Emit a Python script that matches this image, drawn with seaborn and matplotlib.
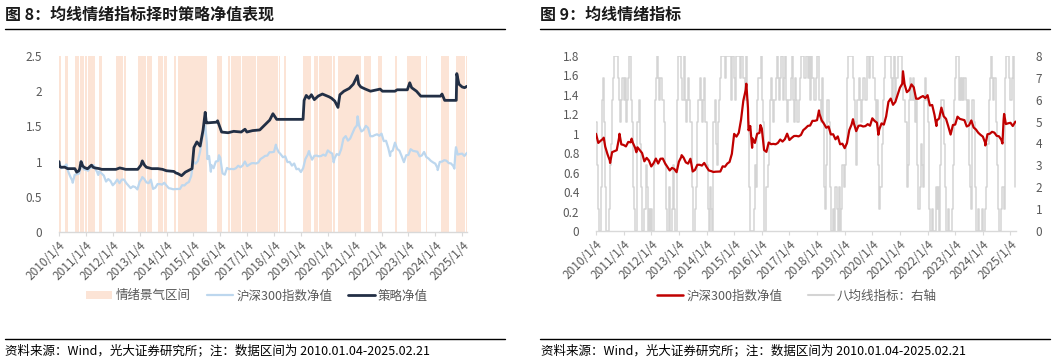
import matplotlib
matplotlib.use("Agg")
import matplotlib.pyplot as plt
from matplotlib.lines import Line2D
from matplotlib.patches import Patch
import seaborn as sns
import pandas as pd
import numpy as np

# ---------------- data ----------------
years = list(range(2010, 2026))
tick_labels = [f"{y}/1/4" for y in years]

# CSI300 net value (time in fractional years)
csi_t = [2010.0, 2010.083, 2010.167, 2010.25, 2010.28, 2010.333, 2010.417, 2010.5, 2010.51, 2010.583, 2010.667, 2010.75, 2010.833, 2010.85, 2010.917, 2011.0,
         2011.083, 2011.167, 2011.25, 2011.29, 2011.333, 2011.417, 2011.46, 2011.5, 2011.583, 2011.667, 2011.75, 2011.833, 2011.917, 2012.0,
         2012.083, 2012.167, 2012.25, 2012.333, 2012.417, 2012.5, 2012.583, 2012.667, 2012.75, 2012.833, 2012.917, 2013.0,
         2013.083, 2013.10, 2013.167, 2013.25, 2013.333, 2013.417, 2013.5, 2013.583, 2013.667, 2013.75, 2013.833, 2013.917, 2014.0,
         2014.083, 2014.167, 2014.25, 2014.333, 2014.417, 2014.5, 2014.583, 2014.667, 2014.75, 2014.833, 2014.917, 2015.0,
         2015.083, 2015.167, 2015.25, 2015.333, 2015.417, 2015.44, 2015.5, 2015.52, 2015.583, 2015.65, 2015.667, 2015.75, 2015.833, 2015.917, 2015.95, 2016.0,
         2016.083, 2016.167, 2016.25, 2016.333, 2016.417, 2016.5, 2016.583, 2016.667, 2016.75, 2016.833, 2016.917, 2017.0,
         2017.083, 2017.167, 2017.25, 2017.333, 2017.417, 2017.5, 2017.583, 2017.667, 2017.75, 2017.833, 2017.917, 2018.0,
         2018.07, 2018.083, 2018.167, 2018.25, 2018.333, 2018.417, 2018.5, 2018.583, 2018.667, 2018.75, 2018.833, 2018.917, 2019.0,
         2019.083, 2019.167, 2019.25, 2019.30, 2019.333, 2019.417, 2019.5, 2019.583, 2019.667, 2019.75, 2019.833, 2019.917, 2020.0,
         2020.083, 2020.167, 2020.22, 2020.25, 2020.333, 2020.417, 2020.5, 2020.583, 2020.667, 2020.75, 2020.833, 2020.917, 2021.0,
         2021.083, 2021.11, 2021.167, 2021.25, 2021.333, 2021.417, 2021.5, 2021.583, 2021.667, 2021.75, 2021.833, 2021.917, 2022.0,
         2022.083, 2022.167, 2022.25, 2022.32, 2022.333, 2022.417, 2022.5, 2022.583, 2022.667, 2022.75, 2022.833, 2022.917, 2023.0,
         2023.083, 2023.167, 2023.25, 2023.333, 2023.417, 2023.5, 2023.583, 2023.667, 2023.75, 2023.833, 2023.917, 2024.0,
         2024.083, 2024.09, 2024.167, 2024.25, 2024.333, 2024.417, 2024.5, 2024.583, 2024.667, 2024.71, 2024.75, 2024.77, 2024.833, 2024.917, 2025.0,
         2025.083, 2025.18]
csi_v = [1.00, 0.906, 0.928, 0.947, 0.960, 0.868, 0.789, 0.725, 0.700, 0.811, 0.821, 0.831, 0.956, 1.000, 0.891, 0.885,
         0.870, 0.916, 0.912, 0.950, 0.908, 0.854, 0.810, 0.861, 0.831, 0.802, 0.717, 0.752, 0.724, 0.664,
         0.697, 0.745, 0.694, 0.743, 0.745, 0.696, 0.660, 0.623, 0.649, 0.638, 0.605, 0.713,
         0.760, 0.780, 0.756, 0.706, 0.693, 0.743, 0.612, 0.629, 0.681, 0.681, 0.673, 0.700, 0.659,
         0.623, 0.616, 0.607, 0.610, 0.611, 0.612, 0.665, 0.661, 0.693, 0.710, 0.794, 0.999,
         0.971, 1.010, 1.146, 1.343, 1.449, 1.515, 1.265, 1.036, 1.080, 0.856, 0.952, 0.906, 1.000, 1.009, 1.090, 1.055,
         0.833, 0.814, 0.910, 0.893, 0.896, 0.892, 0.906, 0.941, 0.920, 0.944, 1.001, 0.936,
         0.958, 0.977, 0.978, 0.973, 0.988, 1.037, 1.057, 1.081, 1.085, 1.133, 1.133, 1.140,
         1.240, 1.209, 1.138, 1.103, 1.062, 1.075, 0.993, 0.995, 0.943, 0.973, 0.892, 0.898, 0.852,
         0.905, 1.038, 1.095, 1.150, 1.107, 1.027, 1.082, 1.085, 1.075, 1.079, 1.099, 1.083, 1.159,
         1.132, 1.114, 0.990, 1.043, 1.107, 1.094, 1.178, 1.328, 1.362, 1.298, 1.328, 1.403, 1.474,
         1.514, 1.643, 1.509, 1.428, 1.449, 1.508, 1.478, 1.361, 1.360, 1.376, 1.388, 1.367, 1.397,
         1.291, 1.296, 1.195, 1.080, 1.136, 1.157, 1.269, 1.180, 1.154, 1.076, 0.992, 1.090, 1.095,
         1.176, 1.153, 1.146, 1.140, 1.075, 1.087, 1.137, 1.065, 1.044, 1.011, 0.989, 0.971,
         0.909, 0.880, 0.995, 1.000, 1.020, 1.012, 0.979, 0.974, 0.939, 0.900, 1.137, 1.204, 1.100, 1.108, 1.113,
         1.080, 1.125]

# strategy net value
strat_t = [2010.0, 2010.02, 2010.07, 2010.22, 2010.32, 2010.59, 2010.66, 2010.74, 2010.77, 2010.82, 2010.88, 2010.93, 2011.04, 2011.07,
           2011.15, 2011.21, 2011.27, 2011.34, 2011.50, 2011.59, 2012.12, 2012.26, 2012.38, 2012.48, 2012.93, 2013.05, 2013.10,
           2013.18, 2013.25, 2013.45, 2013.68, 2013.85, 2014.00, 2014.28, 2014.34, 2014.42, 2014.56, 2014.70, 2014.95, 2015.02,
           2015.13, 2015.25, 2015.36, 2015.44, 2015.48, 2015.51, 2015.86, 2015.90, 2016.05, 2016.29, 2016.50, 2016.78,
           2016.92, 2016.99, 2017.20, 2017.47, 2017.84, 2017.96, 2018.10, 2018.22, 2018.46, 2019.08, 2019.12, 2019.20,
           2019.30, 2019.39, 2019.50, 2019.64, 2019.80, 2020.05, 2020.14, 2020.26, 2020.38, 2020.45, 2020.60, 2020.80,
           2020.95, 2021.10, 2021.15, 2021.23, 2021.40, 2021.59, 2021.95, 2022.03, 2022.50, 2022.58, 2022.96, 2023.05,
           2023.12, 2023.30, 2023.46, 2023.69, 2024.20, 2024.25, 2024.35, 2024.50, 2024.78, 2024.80, 2024.88, 2025.00,
           2025.09, 2025.18]
strat_v = [1.00, 0.93, 0.92, 0.92, 0.90, 0.90, 0.85, 0.87, 0.90, 1.00, 0.94, 0.92, 0.90, 0.90,
           0.93, 0.95, 0.92, 0.91, 0.90, 0.89, 0.89, 0.91, 0.90, 0.89, 0.89, 0.95, 1.01,
           0.95, 0.92, 0.90, 0.90, 0.89, 0.87, 0.86, 0.84, 0.83, 0.80, 0.85, 0.90, 1.20,
           1.28, 1.22, 1.45, 1.70, 1.55, 1.55, 1.56, 1.58, 1.42, 1.41, 1.43, 1.42,
           1.46, 1.42, 1.44, 1.45, 1.59, 1.68, 1.60, 1.60, 1.60, 1.60, 1.87, 1.94,
           1.90, 1.95, 1.88, 1.93, 1.96, 1.92, 1.90, 1.86, 1.77, 1.95, 2.00, 2.04,
           2.10, 2.22, 2.10, 2.06, 2.03, 2.00, 2.03, 2.00, 2.00, 2.02, 2.02, 2.12,
           2.05, 2.00, 1.93, 1.93, 1.93, 1.96, 1.87, 1.87, 1.87, 2.25, 2.10, 2.06,
           2.05, 2.07]

# sentiment-favourable intervals (fractional years)
zone_start = [2010.00, 2010.22, 2010.59, 2010.77, 2010.96, 2011.07, 2011.50, 2012.12, 2012.28, 2012.41, 2012.93, 2013.27,
              2013.68, 2013.89, 2014.28, 2014.42, 2015.86, 2016.29, 2016.39, 2016.80, 2017.01, 2017.36, 2018.17, 2018.38,
              2019.08, 2019.48, 2019.68, 2020.20, 2020.38, 2021.35, 2021.87, 2022.49, 2022.96, 2023.15, 2023.64, 2024.20,
              2024.78, 2025.15]
zone_end = [2010.07, 2010.32, 2010.74, 2010.93, 2011.04, 2011.34, 2011.59, 2012.26, 2012.38, 2012.48, 2013.25, 2013.45,
            2013.87, 2014.00, 2014.34, 2015.51, 2016.05, 2016.37, 2016.78, 2016.99, 2017.33, 2018.14, 2018.22, 2018.46,
            2019.39, 2019.64, 2020.14, 2020.26, 2021.23, 2021.59, 2022.03, 2022.58, 2023.12, 2023.46, 2023.69, 2024.50,
            2025.09, 2025.18]

# eight-moving-average indicator (0-8), semi-monthly readings
ma8_2010 = [5, 3, 1, 0, 2, 6, 7, 5, 2, 0, 0, 1, 3, 4, 6, 7, 8, 8, 8, 7, 6, 5, 6, 7]
ma8_2011 = [6, 7, 5, 6, 7, 8, 6, 5, 2, 1, 0, 0, 5, 6, 4, 2, 0, 0, 1, 3, 2, 0, 1, 0]
ma8_2012 = [1, 0, 3, 6, 7, 8, 7, 6, 7, 6, 6, 5, 3, 1, 0, 2, 0, 0, 1, 3, 1, 0, 6, 8]
ma8_2013 = [8, 8, 7, 6, 8, 6, 5, 6, 7, 6, 5, 2, 0, 0, 1, 2, 5, 6, 7, 6, 5, 6, 7, 5]
ma8_2014 = [3, 1, 0, 2, 1, 0, 5, 6, 4, 3, 5, 6, 7, 8, 8, 8, 7, 8, 8, 8, 8, 6, 8, 8]
ma8_2015 = [7, 6, 8, 8, 8, 7, 8, 8, 7, 6, 8, 6, 5, 2, 0, 0, 0, 1, 3, 2, 6, 7, 7, 8]
ma8_2016 = [6, 5, 0, 0, 2, 3, 4, 6, 7, 6, 5, 6, 7, 8, 7, 6, 7, 8, 6, 7, 8, 6, 5, 6]
ma8_2017 = [6, 7, 8, 6, 5, 7, 6, 5, 6, 7, 8, 8, 8, 7, 8, 8, 7, 8, 6, 8, 7, 6, 6, 7]
ma8_2018 = [8, 8, 6, 5, 7, 5, 2, 1, 3, 6, 5, 2, 0, 0, 1, 0, 2, 1, 0, 2, 0, 1, 3, 2]
ma8_2019 = [3, 4, 7, 8, 8, 8, 8, 7, 6, 5, 3, 6, 7, 6, 5, 6, 7, 7, 6, 8, 8, 7, 8, 8]
ma8_2020 = [8, 7, 6, 5, 6, 3, 1, 2, 4, 6, 7, 8, 8, 8, 8, 8, 7, 6, 7, 8, 6, 7, 8, 8]
ma8_2021 = [8, 8, 7, 6, 5, 5, 2, 3, 6, 7, 6, 7, 6, 5, 6, 3, 1, 2, 4, 3, 2, 6, 7, 6]
ma8_2022 = [5, 1, 0, 0, 1, 0, 0, 2, 1, 2, 0, 3, 6, 6, 4, 2, 0, 0, 1, 0, 0, 1, 3, 6]
ma8_2023 = [7, 8, 8, 6, 7, 6, 7, 6, 7, 6, 5, 6, 3, 2, 1, 6, 5, 2, 0, 0, 1, 0, 0, 1]
ma8_2024 = [0, 0, 1, 2, 4, 6, 7, 8, 7, 6, 7, 5, 3, 1, 0, 0, 1, 2, 1, 7, 8, 8, 8, 7]
ma8_2025 = [6, 7, 8, 5, 2]

# ---------------- figure ----------------
sns.set_theme(style="white")
plt.rcParams["font.family"] = ["Noto Sans CJK SC", "DejaVu Sans"]
plt.rcParams["axes.unicode_minus"] = False

W, H = 1054, 361
fig = plt.figure(figsize=(W / 100, H / 100), dpi=100)

PEACH = "#FCE4D6"
LBLUE = "#BDD7EE"
NAVY = "#222F45"
RED = "#C00000"
GRAY = "#D4D4D4"
TXT = "#595959"

df_csi = pd.DataFrame({"t": csi_t, "v": csi_v})
df_str = pd.DataFrame({"t": strat_t, "v": strat_v})
ma8_vals = (ma8_2010 + ma8_2011 + ma8_2012 + ma8_2013 + ma8_2014 + ma8_2015 + ma8_2016 + ma8_2017 +
            ma8_2018 + ma8_2019 + ma8_2020 + ma8_2021 + ma8_2022 + ma8_2023 + ma8_2024 + ma8_2025)
df_ma8 = pd.DataFrame({"t": [2010 + i / 24 for i in range(len(ma8_vals))], "v": ma8_vals})


def style_xaxis(ax, xmax):
    ax.set_xlim(2010, xmax)
    ax.set_xticks(years)
    ax.set_xticklabels(tick_labels, rotation=45, ha="right", rotation_mode="anchor",
                       fontsize=8.5, color=TXT)
    ax.tick_params(axis="x", bottom=True, length=3, width=0.8, color="#D9D9D9", pad=2)
    for s in ["top", "right", "left"]:
        ax.spines[s].set_visible(False)
    ax.spines["bottom"].set_color("#D9D9D9")
    ax.spines["bottom"].set_linewidth(1.0)
    ax.set_xlabel("")
    ax.set_ylabel("")


# ---- left panel ----
ax1 = fig.add_axes([59 / W, (H - 232) / H, 408 / W, 176 / H])
for a, b in zip(zone_start, zone_end):
    ax1.axvspan(a, b, color=PEACH, lw=0, zorder=1)
sns.lineplot(data=df_csi, x="t", y="v", ax=ax1, color=LBLUE, lw=1.6, zorder=3)
sns.lineplot(data=df_str, x="t", y="v", ax=ax1, color=NAVY, lw=2.0, zorder=4)
ax1.set_ylim(0, 2.5)
ax1.set_yticks([0, 0.5, 1, 1.5, 2, 2.5])
ax1.set_yticklabels(["0", "0.5", "1", "1.5", "2", "2.5"], fontsize=8.5, color=TXT)
ax1.tick_params(axis="y", left=False, pad=6)
style_xaxis(ax1, 2025.18)

h1 = [Patch(facecolor=PEACH, edgecolor="none"),
      Line2D([], [], color=LBLUE, lw=1.6),
      Line2D([], [], color=NAVY, lw=2.0)]
fig.legend(h1, ["情绪景气区间", "沪深300指数净值", "策略净值"], loc="center",
           bbox_to_anchor=(257 / W, 1 - 296 / H), ncol=3, frameon=False, fontsize=9,
           labelcolor=TXT, handlelength=2.1, handleheight=0.6, columnspacing=1.3, handletextpad=0.25)

# ---- right panel ----
ax2 = fig.add_axes([596 / W, (H - 231) / H, 420 / W, 175 / H])
ax3 = ax2.twinx()
sns.lineplot(data=df_ma8, x="t", y="v", ax=ax3, color=GRAY, lw=1.1, drawstyle="steps-post")
sns.lineplot(data=df_csi, x="t", y="v", ax=ax2, color=RED, lw=1.6)
ax2.set_zorder(ax3.get_zorder() + 1)
ax2.patch.set_visible(False)
ax2.set_ylim(0, 1.8)
yt = [0, 0.2, 0.4, 0.6, 0.8, 1.0, 1.2, 1.4, 1.6, 1.8]
ax2.set_yticks(yt)
ax2.set_yticklabels(["0", "0.2", "0.4", "0.6", "0.8", "1", "1.2", "1.4", "1.6", "1.8"], fontsize=8.5, color=TXT)
ax2.tick_params(axis="y", left=False, pad=6)
ax3.set_ylim(0, 8)
ax3.set_yticks(range(0, 9))
ax3.set_yticklabels([str(i) for i in range(9)], fontsize=8.5, color=TXT)
ax3.tick_params(axis="y", right=False, pad=8)
for s in ["top", "right", "left", "bottom"]:
    ax3.spines[s].set_visible(False)
ax3.set_xlabel("")
ax3.set_ylabel("")
style_xaxis(ax2, 2025.2)
ax3.set_xlim(2010, 2025.2)

h2 = [Line2D([], [], color=RED, lw=1.8), Line2D([], [], color=GRAY, lw=1.5)]
fig.legend(h2, ["沪深300指数净值", "八均线指标：右轴"], loc="center",
           bbox_to_anchor=(797 / W, 1 - 296 / H), ncol=2, frameon=False, fontsize=9,
           labelcolor=TXT, handlelength=2.1, columnspacing=2.0, handletextpad=0.25)

# ---- titles, rules, footers ----
fig.text(5 / W, 1 - 15 / H, "图 8：均线情绪指标择时策略净值表现", fontsize=11.5, fontweight="bold",
         va="center", ha="left", color="#1a1a1a")
fig.text(540 / W, 1 - 15 / H, "图 9：均线情绪指标", fontsize=11.5, fontweight="bold",
         va="center", ha="left", color="#1a1a1a")
for x0, x1 in [(5, 505), (540, 1050)]:
    fig.add_artist(Line2D([x0 / W, x1 / W], [1 - 29 / H] * 2, color="black", lw=1.0))
    fig.add_artist(Line2D([x0 / W, x1 / W], [1 - 339 / H] * 2, color="black", lw=1.0))
foot = "资料来源：Wind，光大证券研究所；注：数据区间为 2010.01.04-2025.02.21"
fig.text(5 / W, 1 - 351 / H, foot, fontsize=9, va="center", ha="left", color="black")
fig.text(541 / W, 1 - 351 / H, foot, fontsize=9, va="center", ha="left", color="black")

fig.savefig("out.png", dpi=100)
